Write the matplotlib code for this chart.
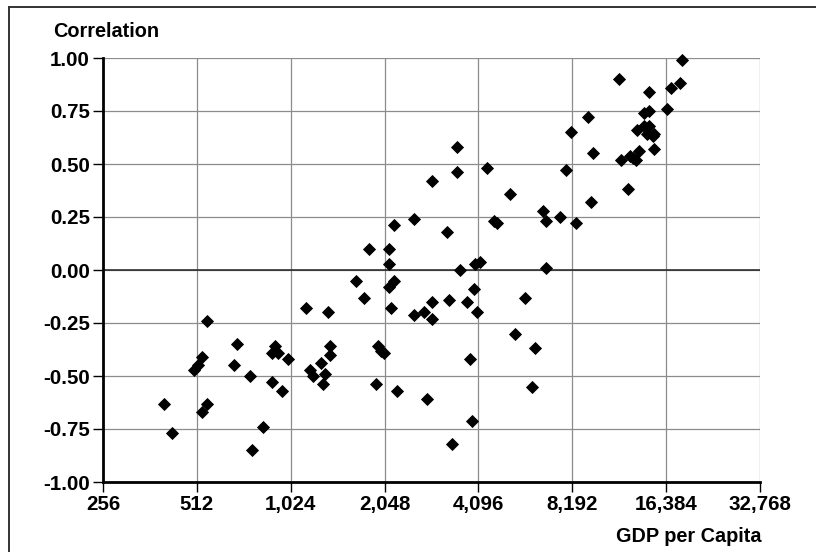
import matplotlib
matplotlib.use('Agg')
import matplotlib.pyplot as plt
from matplotlib.lines import Line2D

# GDP per capita (log2 axis) and correlation
gdp_per_capita = [
    402, 426, 532, 552, 769, 835, 552, 689, 501, 516, 532, 674, 758, 892,
    912, 932, 1004, 892, 960, 1146, 1349, 1181, 1207, 1281, 1319, 1300,
    1369, 1369,
    1658, 2196, 2116, 1759, 2148, 2545, 2740, 2907, 2907, 3295, 3764, 3965,
    4053, 3575, 6746, 5778, 1951, 1995, 2039, 3849, 1922, 2245, 2802, 3906,
    3369, 5366, 6220, 6085, 3497, 3497, 2907, 4363, 5171, 2545, 2196, 3247,
    1826, 2116, 2116, 4595, 4698, 6597, 6746, 7480, 3994, 4143,
    18417, 11568, 16980, 18148, 14436, 9200, 8113, 13911, 14436, 16484,
    13210, 13911, 14436, 14223, 14866, 14970, 14970, 9546, 11738, 12544,
    13112, 13404, 12826, 7821, 12360, 9405, 8418,
]
correlation = [
    -0.63, -0.77, -0.67, -0.63, -0.85, -0.74, -0.24, -0.35, -0.47, -0.45,
    -0.41, -0.45, -0.50, -0.39, -0.36, -0.39, -0.42, -0.53, -0.57, -0.18,
    -0.20, -0.47, -0.50, -0.44, -0.49, -0.54, -0.36, -0.40,
    -0.05, -0.05, -0.08, -0.13, -0.18, -0.21, -0.20, -0.23, -0.15, -0.14,
    -0.15, -0.09, -0.20, 0.00, 0.01, -0.13, -0.36, -0.38, -0.39, -0.42,
    -0.54, -0.57, -0.61, -0.71, -0.82, -0.30, -0.37, -0.55, 0.58, 0.46,
    0.42, 0.48, 0.36, 0.24, 0.21, 0.18, 0.10, 0.10, 0.03, 0.23, 0.22,
    0.28, 0.23, 0.25, 0.03, 0.04,
    0.99, 0.90, 0.86, 0.88, 0.84, 0.72, 0.65, 0.74, 0.75, 0.76, 0.66,
    0.68, 0.68, 0.64, 0.63, 0.64, 0.57, 0.55, 0.52, 0.54, 0.52, 0.56,
    0.53, 0.47, 0.38, 0.32, 0.22,
]

x_ticks = [256, 512, 1024, 2048, 4096, 8192, 16384, 32768]
x_labels = ['256', '512', '1,024', '2,048', '4,096', '8,192', '16,384', '32,768']
y_ticks = [-1.0, -0.75, -0.5, -0.25, 0.0, 0.25, 0.5, 0.75, 1.0]
y_labels = ['-1.00', '-0.75', '-0.50', '-0.25', '0.00', '0.25', '0.50', '0.75', '1.00']

plt.rcParams['font.family'] = ['Liberation Sans', 'DejaVu Sans']
plt.rcParams['font.weight'] = 'bold'

W, H = 816, 552
fig = plt.figure(figsize=(W / 100, H / 100), dpi=100)
ax = fig.add_axes([103 / W, 70 / H, 657 / W, 424 / H])

ax.set_xscale('log', base=2)
ax.set_xlim(256, 32768)
ax.set_ylim(-1.0, 1.0)

# grid
ax.set_axisbelow(True)
ax.grid(True, color='#8c8c8c', linewidth=0.9)
ax.axhline(0, color='#222222', linewidth=1.1, zorder=1)

ax.plot(gdp_per_capita, correlation, linestyle='none', marker='D',
        markersize=6.2, color='black', markeredgewidth=0.6, zorder=3,
        clip_on=False)

ax.set_xticks(x_ticks)
ax.set_xticklabels(x_labels)
ax.xaxis.set_minor_locator(plt.NullLocator())
ax.set_yticks(y_ticks)
ax.set_yticklabels(y_labels)

ax.tick_params(axis='both', direction='out', length=7, width=1,
               color='black', labelsize=14.8, pad=2.5)

for side in ['top', 'right']:
    ax.spines[side].set_visible(False)
for side in ['left', 'bottom']:
    ax.spines[side].set_linewidth(2)
    ax.spines[side].set_color('black')

fig.text(53 / W, 1 - 37 / H, 'Correlation', fontsize=14.3, fontweight='bold',
         ha='left', va='baseline')
fig.text(761 / W, 1 - 542 / H, 'GDP per Capita', fontsize=14.3,
         fontweight='bold', ha='right', va='baseline')

# frame around the chart (left and top edges visible)
fig.add_artist(Line2D([8.5 / W, 8.5 / W], [0, 1 - 7 / H],
                      transform=fig.transFigure, color='#333333', lw=1.4))
fig.add_artist(Line2D([8.5 / W, 1], [1 - 7 / H, 1 - 7 / H],
                      transform=fig.transFigure, color='#333333', lw=1.4))

fig.savefig('out.png', dpi=100)
